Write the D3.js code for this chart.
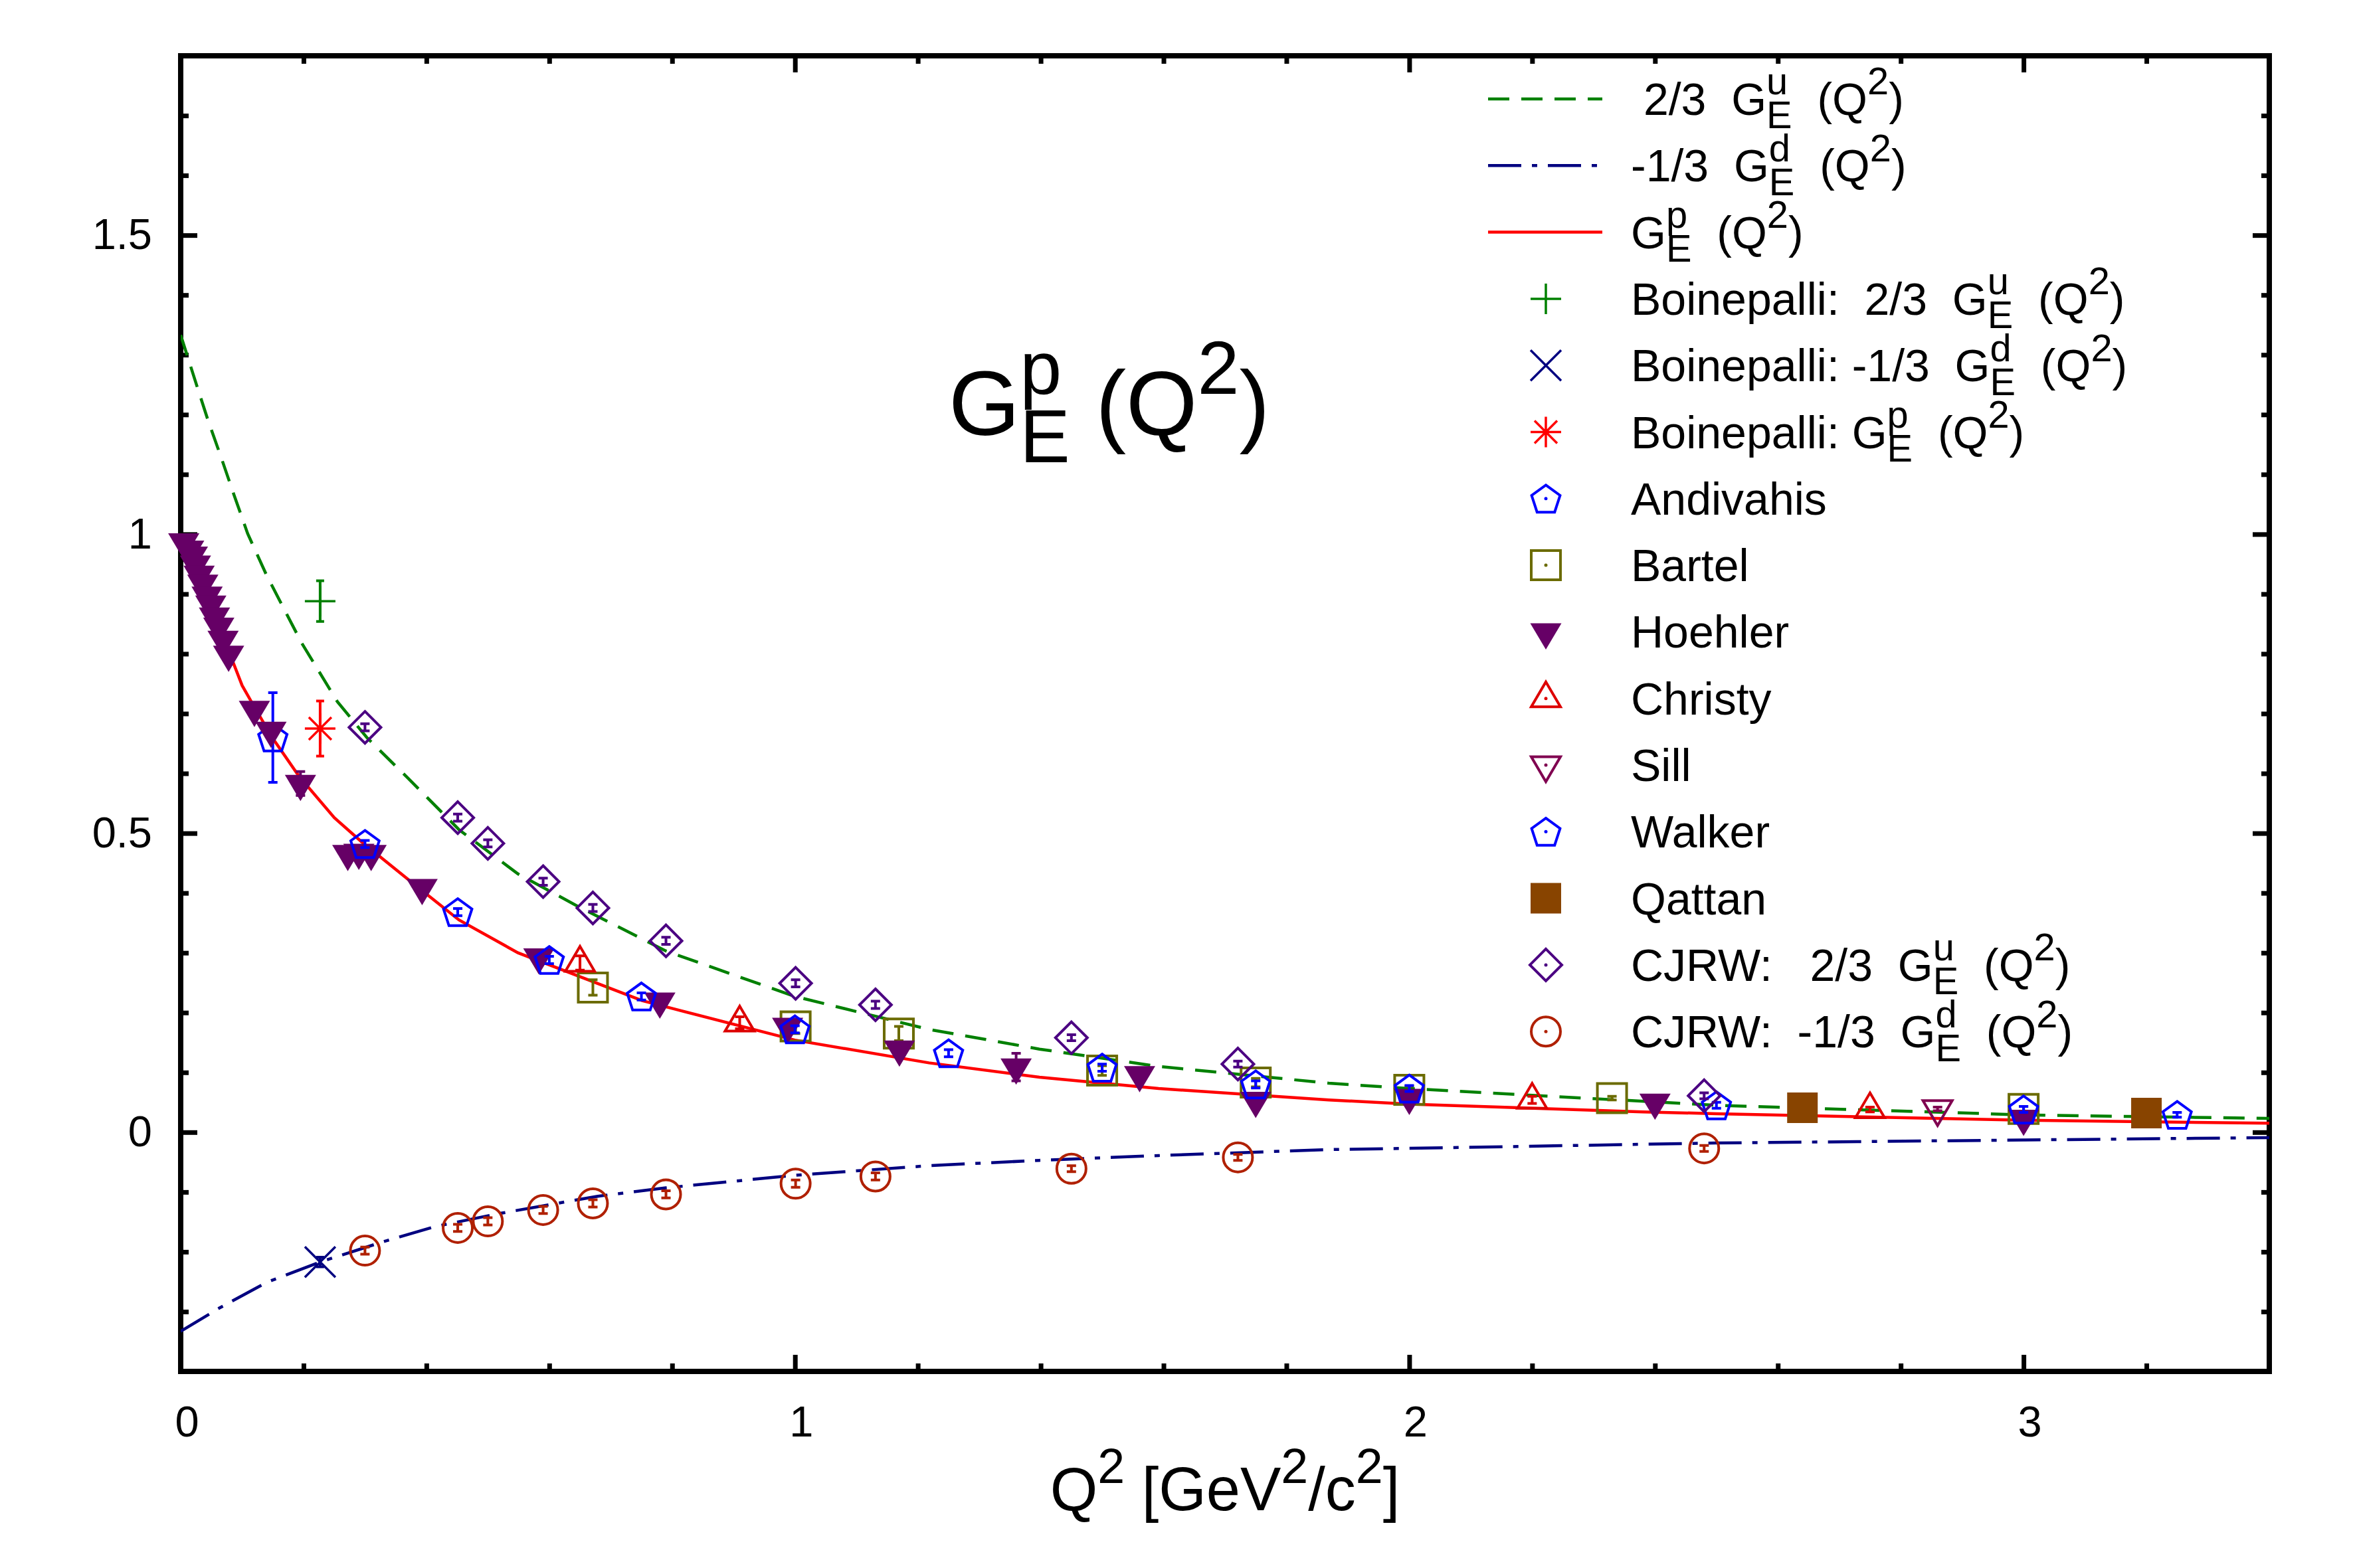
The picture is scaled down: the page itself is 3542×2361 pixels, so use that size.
<!DOCTYPE html>
<html>
<head>
<meta charset="utf-8">
<script src="https://cdn.jsdelivr.net/npm/d3@7"></script>
<style>
html,body{margin:0;padding:0;background:#fff;}
svg{display:block;}
text{font-family:"Liberation Sans", Arial, Helvetica, sans-serif; white-space:pre;}
</style>
</head>
<body>
<svg id="chart" width="3542" height="2361" xmlns="http://www.w3.org/2000/svg"></svg>
<script>
// ---------------- Ticks ----------------
const xMajorTicks = [0, 1, 2, 3];
const xMajorLabels = ["0", "1", "2", "3"];
const xMinorTicks = [0.2, 0.4, 0.6, 0.8, 1.2, 1.4, 1.6, 1.8, 2.2, 2.4, 2.6, 2.8, 3.2];
const yMajorTicks = [0, 0.5, 1, 1.5];
const yMajorLabels = ["0", "0.5", "1", "1.5"];
const yMinorTicks = [-0.3, -0.2, -0.1, 0.1, 0.2, 0.3, 0.4, 0.6, 0.7, 0.8, 0.9, 1.1, 1.2, 1.3, 1.4, 1.6, 1.7];

// ---------------- Curves ----------------
const uCurveQ2 = [0, 0.026, 0.044, 0.066, 0.085, 0.109, 0.14, 0.197, 0.255, 0.303, 0.371, 0.453, 0.549, 0.646, 0.79, 1.0, 1.218, 1.398, 1.592, 1.869, 2.0, 2.5, 3.0, 3.4];
const uCurveG  = [1.333, 1.249, 1.192, 1.128, 1.071, 1.001, 0.931, 0.818, 0.72, 0.66, 0.591, 0.506, 0.432, 0.378, 0.303, 0.227, 0.172, 0.139, 0.110, 0.082, 0.073, 0.045, 0.029, 0.023];
const dCurveQ2 = [0, 0.063, 0.14, 0.227, 0.327, 0.413, 0.513, 0.679, 0.79, 1.0, 1.218, 1.398, 1.592, 1.869, 2.0, 2.5, 3.0, 3.4];
const dCurveG  = [-0.333, -0.294, -0.251, -0.217, -0.184, -0.158, -0.137, -0.107, -0.093, -0.072, -0.056, -0.047, -0.039, -0.029, -0.027, -0.018, -0.013, -0.009];
const pCurveQ2 = [0, 0.02, 0.04, 0.06, 0.086, 0.1, 0.115, 0.149, 0.192, 0.25, 0.294, 0.371, 0.453, 0.549, 0.751, 1.0, 1.218, 1.398, 1.592, 1.869, 2.0, 2.38, 2.5, 3.0, 3.4];
const pCurveG  = [1.0, 0.95, 0.9, 0.85, 0.784, 0.747, 0.72, 0.66, 0.596, 0.526, 0.486, 0.422, 0.355, 0.300, 0.220, 0.154, 0.116, 0.092, 0.073, 0.054, 0.047, 0.034, 0.031, 0.020, 0.015];

// ---------------- Data points ----------------
const boinUQ2 = [0.227], boinUG = [0.888], boinUErr = [0.034];
const boinDQ2 = [0.227], boinDG = [-0.217], boinDErr = [0.008];
const boinPQ2 = [0.227], boinPG = [0.675], boinPErr = [0.046];

const andivahisQ2 = [0.15, 3.25];
const andivahisG  = [0.66, 0.029];
const andivahisErr = [0.075, 0.004];

const bartelQ2 = [0.671, 1.001, 1.169, 1.5, 1.75, 2.0, 2.33, 3.0];
const bartelG  = [0.242, 0.177, 0.165, 0.103, 0.083, 0.071, 0.057, 0.039];
const bartelErr = [0.013, 0.012, 0.012, 0.008, 0.007, 0.006, 0.003, 0.004];

const hoehlerQ2 = [0.005, 0.013, 0.019, 0.024, 0.030, 0.036, 0.043, 0.049, 0.055, 0.062, 0.069, 0.078, 0.12, 0.147, 0.195, 0.272, 0.29, 0.31, 0.393, 0.583, 0.78, 0.988, 1.17, 1.36, 1.561, 1.75, 2.0, 2.40, 3.0];
const hoehlerG  = [0.987, 0.975, 0.965, 0.950, 0.933, 0.918, 0.898, 0.883, 0.863, 0.846, 0.824, 0.799, 0.707, 0.672, 0.583, 0.466, 0.468, 0.466, 0.409, 0.293, 0.219, 0.177, 0.139, 0.109, 0.096, 0.053, 0.058, 0.050, 0.023];
const hoehlerErr = [0.004, 0.004, 0.004, 0.004, 0.004, 0.004, 0.004, 0.004, 0.004, 0.004, 0.004, 0.004, 0.004, 0.004, 0.02, 0.004, 0.004, 0.004, 0.004, 0.004, 0.004, 0.004, 0.004, 0.023, 0.004, 0.004, 0.004, 0.004, 0.004];

const christyQ2 = [0.65, 0.91, 2.2, 2.75];
const christyG  = [0.283, 0.183, 0.054, 0.038];
const christyErr = [0.012, 0.010, 0.006, 0.004];

const sillQ2 = [2.86], sillG = [0.039], sillErr = [0.003];

const walkerQ2 = [0.30, 0.451, 0.60, 0.75, 1.0, 1.25, 1.5, 1.75, 2.0, 2.5, 3.0];
const walkerG  = [0.482, 0.368, 0.288, 0.227, 0.172, 0.132, 0.108, 0.080, 0.073, 0.045, 0.038];
const walkerErr = [0.006, 0.006, 0.006, 0.006, 0.006, 0.006, 0.006, 0.006, 0.005, 0.005, 0.005];

const qattanQ2 = [2.64, 3.2], qattanG = [0.041, 0.032], qattanErr = [0.003, 0.003];

const cjrwQ2 = [0.30, 0.451, 0.50, 0.59, 0.671, 0.79, 1.001, 1.131, 1.45, 1.721, 2.48];
const cjrwUG = [0.677, 0.526, 0.483, 0.419, 0.375, 0.320, 0.249, 0.213, 0.158, 0.114, 0.061];
const cjrwUErr = [0.006, 0.006, 0.006, 0.006, 0.006, 0.006, 0.006, 0.006, 0.005, 0.005, 0.005];
const cjrwDG = [-0.198, -0.160, -0.149, -0.130, -0.119, -0.104, -0.086, -0.074, -0.061, -0.042, -0.027];
const cjrwDErr = [0.006, 0.006, 0.006, 0.006, 0.006, 0.006, 0.006, 0.006, 0.005, 0.005, 0.005];

// ---------------- Text ----------------
const titleParts = ["G", {sub: "E", sup: "p"}, " (Q", {sup: "2"}, ")"];
const xTitleParts = ["Q", {sup: "2"}, " [GeV", {sup: "2"}, "/c", {sup: "2"}, "]"];
const legendParts = [
  [" 2/3  G", {sub: "E", sup: "u"}, "  (Q", {sup: "2"}, ")"],
  ["-1/3  G", {sub: "E", sup: "d"}, "  (Q", {sup: "2"}, ")"],
  ["G", {sub: "E", sup: "p"}, "  (Q", {sup: "2"}, ")"],
  ["Boinepalli:  2/3  G", {sub: "E", sup: "u"}, "  (Q", {sup: "2"}, ")"],
  ["Boinepalli: -1/3  G", {sub: "E", sup: "d"}, "  (Q", {sup: "2"}, ")"],
  ["Boinepalli: G", {sub: "E", sup: "p"}, "  (Q", {sup: "2"}, ")"],
  ["Andivahis"], ["Bartel"], ["Hoehler"], ["Christy"], ["Sill"], ["Walker"], ["Qattan"],
  ["CJRW:   2/3  G", {sub: "E", sup: "u"}, "  (Q", {sup: "2"}, ")"],
  ["CJRW:  -1/3  G", {sub: "E", sup: "d"}, "  (Q", {sup: "2"}, ")"]
];

// ---------------- Setup ----------------
const svg = d3.select("#chart");
const L = 272, R = 3416, T = 84, B = 2065;
const x = d3.scaleLinear().domain([0, 3.4]).range([L, R]);
const y = d3.scaleLinear().domain([-0.4, 1.8]).range([B, T]);

svg.append("rect").attr("width", 3542).attr("height", 2361).attr("fill", "#fff");

// ---------------- Axes ----------------
function addAxis(gen, tr, vals, size, labels, isX) {
  const g = svg.append("g").attr("transform", tr)
    .call(gen.tickValues(vals).tickSize(size).tickPadding(isX ? 52 : 43)
      .tickFormat(labels ? ((d, i) => labels[i]) : (() => "")));
  g.select(".domain").remove();
  g.selectAll(".tick line").attr("stroke", "#000").attr("stroke-width", 7);
  g.selectAll(".tick text").attr("font-size", 65).attr("fill", "#000")
    .attr("font-family", '"Liberation Sans", Arial, sans-serif');
  if (isX) g.selectAll(".tick text").attr("dx", 9);
  if (!labels) g.selectAll(".tick text").remove();
  return g;
}
addAxis(d3.axisBottom(x), `translate(0,${B})`, xMajorTicks, -25, xMajorLabels, true);
addAxis(d3.axisBottom(x), `translate(0,${B})`, xMinorTicks, -12, null, true);
addAxis(d3.axisTop(x), `translate(0,${T})`, xMajorTicks, -25, null, true);
addAxis(d3.axisTop(x), `translate(0,${T})`, xMinorTicks, -12, null, true);
addAxis(d3.axisLeft(y), `translate(${L},0)`, yMajorTicks, -25, yMajorLabels, false);
addAxis(d3.axisLeft(y), `translate(${L},0)`, yMinorTicks, -12, null, false);
addAxis(d3.axisRight(y), `translate(${R},0)`, yMajorTicks, -25, null, false);
addAxis(d3.axisRight(y), `translate(${R},0)`, yMinorTicks, -12, null, false);

svg.append("rect").attr("x", L).attr("y", T).attr("width", R - L).attr("height", B - T)
  .attr("fill", "none").attr("stroke", "#000").attr("stroke-width", 8);

// ---------------- Curves ----------------
svg.append("clipPath").attr("id", "clip").append("rect")
  .attr("x", L).attr("y", T).attr("width", R - L).attr("height", B - T);
const line = d3.line().x(d => x(d[0])).y(d => y(d[1]));
const curves = [
  {q: uCurveQ2, g: uCurveG, color: "#008000", dash: "32,18"},
  {q: dCurveQ2, g: dCurveG, color: "#000080", dash: "50,16,8,16"},
  {q: pCurveQ2, g: pCurveG, color: "#ff0000", dash: null}
];
const cg = svg.append("g").attr("clip-path", "url(#clip)");
curves.forEach(c => {
  cg.append("path").datum(d3.zip(c.q, c.g)).attr("d", line)
    .attr("fill", "none").attr("stroke", c.color).attr("stroke-width", 4.5)
    .attr("stroke-dasharray", c.dash);
});

// ---------------- Markers ----------------
function shapePath(shape) {
  switch (shape) {
    case "pentagon": {
      const Rr = 22.5, off = (Rr - Rr * Math.cos(Math.PI / 5)) / 2;
      const pts = [];
      for (let k = 0; k < 5; k++) {
        const a = -Math.PI / 2 + k * 2 * Math.PI / 5;
        pts.push([Rr * Math.cos(a), Rr * Math.sin(a) + off]);
      }
      return "M" + pts.map(p => p[0].toFixed(2) + "," + p[1].toFixed(2)).join("L") + "Z";
    }
    case "square": return "M-22,-22H22V22H-22Z";
    case "squareFill": return "M-23,-23H23V23H-23Z";
    case "diamond": return "M0,-24L24,0L0,24L-24,0Z";
    case "circle": return "M22,0A22,22 0 1,1 -22,0A22,22 0 1,1 22,0Z";
    case "triUp": return "M0,-25L22,12.5L-22,12.5Z";
    case "triDown": return "M0,25L22,-12.5L-22,-12.5Z";
    case "triDownFill": return "M0,26.5L23.5,-13L-23.5,-13Z";
    case "plus": return "M-23,0H23M0,-23V23";
    case "cross": return "M-23,-23L23,23M-23,23L23,-23";
    case "star": return "M-23,0H23M0,-23V23M-17,-17L17,17M-17,17L17,-17";
  }
}
const series = [
  {q: boinUQ2, g: boinUG, e: boinUErr, shape: "plus", color: "#008000", fill: false, sw: 3.5, dot: false},
  {q: boinDQ2, g: boinDG, e: boinDErr, shape: "cross", color: "#000080", fill: false, sw: 3.5, dot: false},
  {q: boinPQ2, g: boinPG, e: boinPErr, shape: "star", color: "#ff0000", fill: false, sw: 3.5, dot: false},
  {q: andivahisQ2, g: andivahisG, e: andivahisErr, shape: "pentagon", color: "#0000ff", fill: false, sw: 4, dot: true},
  {q: bartelQ2, g: bartelG, e: bartelErr, shape: "square", color: "#6b6b00", fill: false, sw: 4, dot: true},
  {q: hoehlerQ2, g: hoehlerG, e: hoehlerErr, shape: "triDownFill", color: "#660066", fill: true, sw: 0, dot: false},
  {q: christyQ2, g: christyG, e: christyErr, shape: "triUp", color: "#dd0000", fill: false, sw: 4, dot: true},
  {q: sillQ2, g: sillG, e: sillErr, shape: "triDown", color: "#800050", fill: false, sw: 4, dot: true},
  {q: walkerQ2, g: walkerG, e: walkerErr, shape: "pentagon", color: "#0000ff", fill: false, sw: 4, dot: true},
  {q: qattanQ2, g: qattanG, e: qattanErr, shape: "squareFill", color: "#884400", fill: true, sw: 0, dot: false},
  {q: cjrwQ2, g: cjrwUG, e: cjrwUErr, shape: "diamond", color: "#4b0082", fill: false, sw: 4, dot: true},
  {q: cjrwQ2, g: cjrwDG, e: cjrwDErr, shape: "circle", color: "#b02000", fill: false, sw: 4, dot: true}
];

function drawMarker(parent, s, cx, cy) {
  parent.append("path").attr("transform", `translate(${cx},${cy})`)
    .attr("d", shapePath(s.shape))
    .attr("fill", s.fill ? s.color : "none")
    .attr("stroke", s.fill ? "none" : s.color)
    .attr("stroke-width", s.sw).attr("stroke-linejoin", "miter");
}

const pg = svg.append("g");
series.forEach(s => {
  const gs = pg.append("g");
  d3.zip(s.q, s.g, s.e).forEach(([q, g, e]) => {
    const cx = x(q), y1 = y(g + e), y2 = y(g - e);
    const cap = (s.shape === "plus" || s.shape === "star" || s.shape === "cross") ? 6 : 7;
    gs.append("path")
      .attr("d", `M${cx},${y1}V${y2}M${cx - cap},${y1}H${cx + cap}M${cx - cap},${y2}H${cx + cap}`)
      .attr("stroke", s.color).attr("stroke-width", 4).attr("fill", "none");
    drawMarker(gs, s, cx, y(g));
  });
});

// ---------------- Rich text (single <text> with positioned tspans) ----------------
function rich(parent, parts, px, py, size, anchor, ratio) {
  const tmp = parent.append("text").attr("xml:space", "preserve");
  const measure = (str, fs) => { tmp.attr("font-size", fs).text(str); return tmp.node().getComputedTextLength(); };
  const segs = [];
  let cx = 0;
  parts.forEach(p => {
    if (typeof p === "string") {
      segs.push({t: p, x: cx, y: 0, fs: size});
      cx += measure(p, size);
    } else {
      let w = 0;
      if (p.sup) {
        segs.push({t: p.sup, x: cx, y: -0.45 * size, fs: ratio * size});
        w = Math.max(w, measure(p.sup, ratio * size));
      }
      if (p.sub) {
        segs.push({t: p.sub, x: cx, y: 0.3 * size, fs: ratio * size});
        w = Math.max(w, measure(p.sub, ratio * size));
      }
      cx += w;
    }
  });
  tmp.remove();
  const dx = anchor === "middle" ? -cx / 2 : (anchor === "end" ? -cx : 0);
  const t = parent.append("text").attr("xml:space", "preserve").attr("fill", "#000");
  segs.forEach(s => t.append("tspan")
    .attr("x", (px + dx + s.x).toFixed(2)).attr("y", (py + s.y).toFixed(2))
    .attr("font-size", s.fs).text(s.t));
  return t;
}

rich(svg, titleParts, 1428, 655, 138, "start", 0.82);
rich(svg, xTitleParts, 1844, 2274, 92, "middle", 0.8);

// ---------------- Legend ----------------
const lg = svg.append("g");
const rowY = i => 149 + 100.3 * i;
legendParts.forEach((parts, i) => {
  const yy = rowY(i);
  if (i < 3) {
    const c = curves[i];
    lg.append("line").attr("x1", 2240).attr("x2", 2412).attr("y1", yy).attr("y2", yy)
      .attr("stroke", c.color).attr("stroke-width", 4.5).attr("stroke-dasharray", c.dash);
  } else {
    const s = series[i - 3];
    drawMarker(lg, s, 2327, yy);
    if (s.dot) lg.append("circle").attr("cx", 2327).attr("cy", yy).attr("r", 2.5).attr("fill", s.color);
  }
  rich(lg, parts, 2455, yy + 24, 68, "start", 0.85);
});
</script>
</body>
</html>
